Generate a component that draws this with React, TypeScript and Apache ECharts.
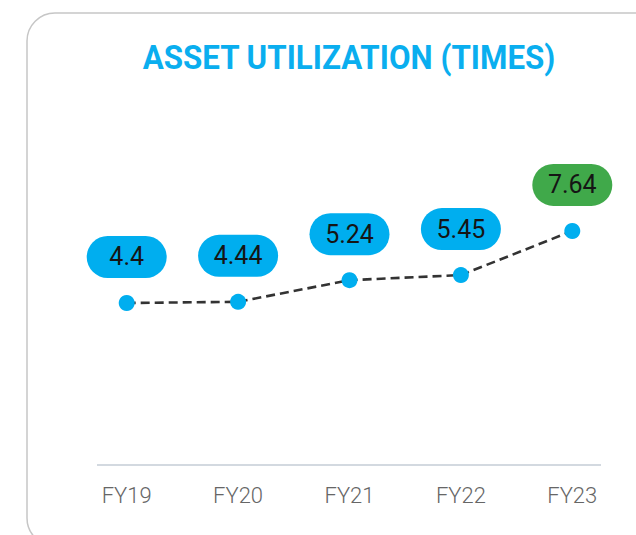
import React, { useEffect, useRef } from "react";
import * as echarts from "echarts";

const categories = ["FY19", "FY20", "FY21", "FY22", "FY23"];
const values = [4.4, 4.44, 5.24, 5.45, 7.64];
const pillColors = ["#00aeef", "#00aeef", "#00aeef", "#00aeef", "#40a94a"];
const titleText = "ASSET UTILIZATION (TIMES)";

export default function App() {
  const ref = useRef<HTMLDivElement>(null);
  useEffect(() => {
    if (!ref.current) return;
    const chart = echarts.init(ref.current, null, { renderer: "svg" });
    chart.setOption({
      animation: false,
      backgroundColor: "#ffffff",
      grid: { left: 71, right: 8, top: 100, bottom: 70 },
      xAxis: {
        type: "category",
        data: categories,
        boundaryGap: true,
        axisLine: { show: false },
        axisTick: { show: false },
        axisLabel: {
          color: "#666666",
          fontSize: 22,
          fontFamily: "Roboto",
          fontWeight: 300,
          margin: 19,
        },
      },
      yAxis: {
        type: "log",
        min: 1.2716,
        max: 20.84,
        show: false,
        splitLine: { show: false },
      },
      graphic: [
        {
          type: "rect",
          shape: { x: 27, y: 13, width: 700, height: 533, r: 28 },
          style: { fill: "none", stroke: "#c6c6c6", lineWidth: 1.5 },
          silent: true,
          z: -10,
        },
        {
          type: "line",
          shape: { x1: 97, y1: 465, x2: 601, y2: 465 },
          style: { stroke: "#c5ccd6", lineWidth: 1.5 },
          silent: true,
        },
        {
          type: "text",
          x: 349,
          y: 58,
          scaleX: 0.95,
          style: {
            text: titleText,
            fill: "#0aaeef",
            font: "bold 33px Roboto",
            textAlign: "center",
            textVerticalAlign: "middle",
          },
        },
      ],
      series: [
        {
          type: "line",
          data: values.map((v, i) => ({
            value: v,
            label: { backgroundColor: pillColors[i] },
          })),
          symbol: "circle",
          symbolSize: 16,
          itemStyle: { color: "#00aeef" },
          lineStyle: { color: "#333333", width: 2.6, type: [9, 5] },
          label: {
            show: true,
            position: "top",
            distance: 17,
            color: "#151515",
            fontSize: 25,
            fontFamily: "Roboto",
            width: 80,
            height: 42,
            lineHeight: 42,
            align: "center",
            borderRadius: 21,
            padding: 0,
          },
        },
      ],
    });
    return () => chart.dispose();
  }, []);
  return (
    <div
      ref={ref}
      style={{ position: "absolute", left: 0, top: 0, width: 636, height: 535 }}
    />
  );
}
